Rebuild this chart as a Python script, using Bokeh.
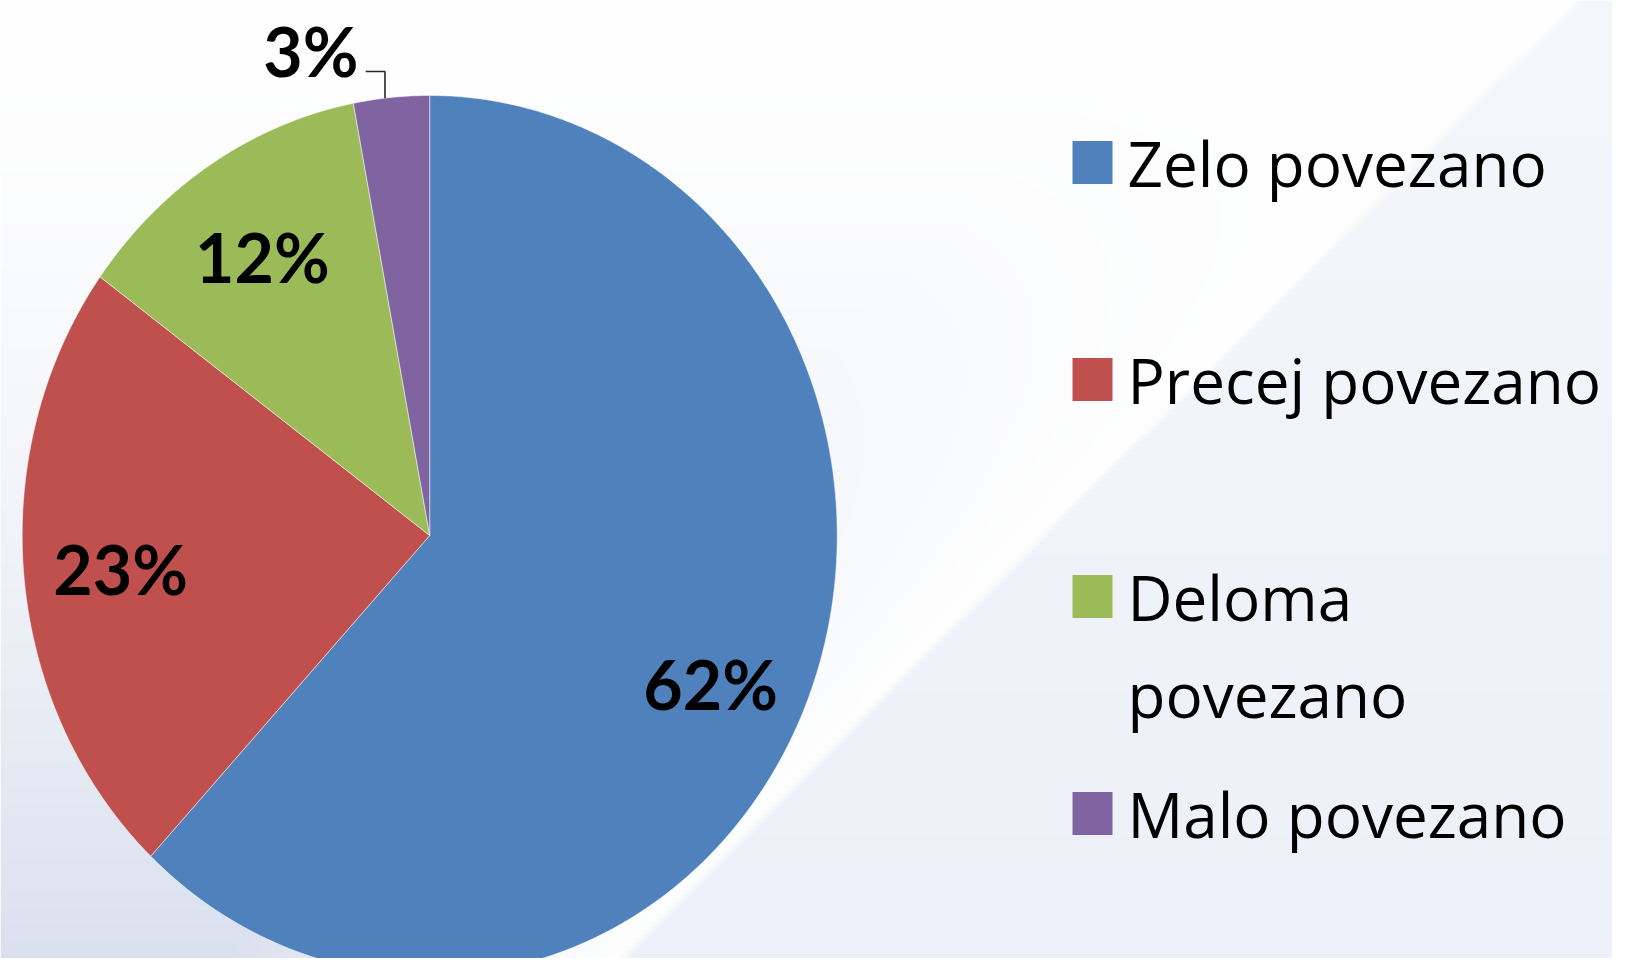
import numpy as np
from bokeh.plotting import figure
from bokeh.models import Range1d
from bokeh.core.properties import value
from bokeh.embed import file_html
from bokeh.resources import INLINE

# ---------------- data ----------------
categories = ["Zelo povezano", "Precej povezano", "Deloma povezano", "Malo povezano"]
legend_lines = [["Zelo povezano"], ["Precej povezano"], ["Deloma", "povezano"], ["Malo povezano"]]
shares = [62, 23, 12, 3]
labels = ["62%", "23%", "12%", "3%"]
colors = ["#4F81BD", "#C0504D", "#9BBB59", "#8064A2"]

# ---------------- layout ----------------
W, H = 1612, 958
CX, CY = 429.2, 423.0      # pie centre
RX, RY = 407.5, 440.0      # pie radii (chart slightly squashed horizontally)
label_r = [0.767, 0.762, 0.756]
label_nudge = [-4.4, 0.2, 0.5]
LABEL_SIZE = 68
LABEL_FONT = "Lato"
LEG_SIZE = 62
LEG_FONT = "Open Sans"
BASE_K = 0.355             # renderer places alphabetic baseline ~0.355*size below y


def text_y(baseline_y, size):
    """plot-y for a text whose visual baseline should sit at baseline_y (plot coords)."""
    return baseline_y + BASE_K * size


p = figure(width=W, height=H, x_range=Range1d(0, W), y_range=Range1d(0, H),
           output_backend="svg", toolbar_location=None, min_border=0)
p.axis.visible = False
p.grid.visible = False
p.outline_line_color = None
p.background_fill_color = "white"
p.border_fill_color = "white"

# ---------------- background (slide-style shading) ----------------
res = 4
nx, ny = W // res, H // res
Xr = (np.arange(nx) + 0.5) * res
Yr = H - (np.arange(ny) + 0.5) * res
XX, YY = np.meshgrid(Xr, Yr)
S = XX + YY
f = np.clip(YY / 974, 0, 1) ** 1.6 * np.clip((1580 - S) / 400, 0, 1)
c1 = np.array([217, 224, 238], float)
left = 255 * (1 - f)[..., None] + c1 * f[..., None]
t = np.clip(YY / 974, 0, 1)[..., None]
right = np.array([246, 247, 251], float) * (1 - t) + np.array([237, 240, 248], float) * t
m = np.clip((S - 1580) / 14 + 0.5, 0, 1)[..., None]
col = left * (1 - m) + right * m
img = np.empty((ny, nx), dtype=np.uint32)
view = img.view(dtype=np.uint8).reshape((ny, nx, 4))
view[..., 0] = col[..., 0].astype(np.uint8)
view[..., 1] = col[..., 1].astype(np.uint8)
view[..., 2] = col[..., 2].astype(np.uint8)
view[..., 3] = 255
p.image_rgba(image=[img], x=0, y=0, dw=W, dh=H)

# ---------------- pie slices ----------------
total = float(sum(shares))
xs, ys, mids = [], [], []
start = 90.0
for v in shares:
    sweep = 360.0 * v / total
    end = start - sweep
    n = max(int(sweep * 2), 8)
    ang = np.radians(np.linspace(start, end, n))
    xs.append([CX] + list(CX + RX * np.cos(ang)) + [CX])
    ys.append([CY] + list(CY + RY * np.sin(ang)) + [CY])
    mids.append((start + end) / 2.0)
    start = end

p.patches(xs=xs, ys=ys, fill_color=colors, line_color="white", line_alpha=0.5, line_width=1)

# ---------------- data labels ----------------
DIGIT_H = 0.7165 * LABEL_SIZE
for i in range(3):
    a = np.radians(mids[i] + label_nudge[i])
    lx = CX + RX * label_r[i] * np.cos(a)
    ly = CY + RY * label_r[i] * np.sin(a)
    p.text(x=[lx], y=[text_y(ly - DIGIT_H / 2, LABEL_SIZE)], text=[labels[i]],
           text_font=value(LABEL_FONT), text_font_style="bold",
           text_font_size=f"{LABEL_SIZE}px", text_color="black",
           text_align="center", text_baseline="alphabetic")

# small slice: label outside with leader line
a = np.radians(mids[3] + 0.9)
ex, ey = CX + RX * np.cos(a), CY + RY * np.sin(a)
ky = CY + RY * 1.0545
kx = CX + RX * (-0.157)
p.line(x=[ex, ex, kx], y=[ey, ky, ky], line_color="#262626", line_width=1.6)
tx = CX + RX * (-0.175)
ty = CY + RY * 1.103
p.text(x=[tx], y=[text_y(ty - DIGIT_H / 2, LABEL_SIZE)], text=[labels[3]],
       text_font=value(LABEL_FONT), text_font_style="bold",
       text_font_size=f"{LABEL_SIZE}px", text_color="black",
       text_align="right", text_baseline="alphabetic")

# ---------------- legend ----------------
LEG_X = 1092
TEXT_X = 1127
TOP_C = H - 162.0
STEP = 217.0
LINE_GAP = 97.0
CAP_H = 0.714 * LEG_SIZE
for i, lines in enumerate(legend_lines):
    yc = TOP_C - i * STEP
    p.rect(x=[LEG_X], y=[yc], width=40, height=43, fill_color=colors[i], line_color=None)
    for j, ln in enumerate(lines):
        base = yc - CAP_H / 2 - j * LINE_GAP
        p.text(x=[TEXT_X], y=[text_y(base, LEG_SIZE)], text=[ln],
               text_font=value(LEG_FONT), text_font_size=f"{LEG_SIZE}px",
               text_color="black", text_align="left", text_baseline="alphabetic")

open("out.html", "w").write(file_html(p, INLINE))
